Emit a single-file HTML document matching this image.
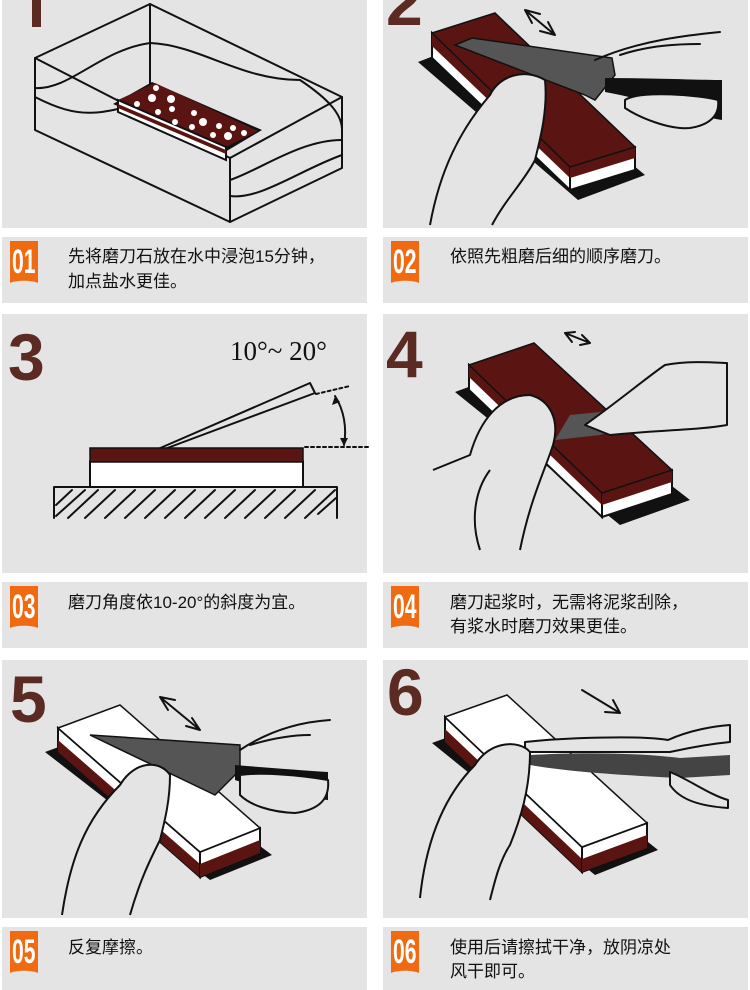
<!DOCTYPE html>
<html><head><meta charset="utf-8"><style>
html,body{margin:0;padding:0;background:#fff;}
svg{display:block;}
.cap{font-family:"Liberation Sans","Noto Sans CJK SC",sans-serif;font-size:17px;fill:#111;}
.big{font-family:"Liberation Sans",sans-serif;font-weight:bold;font-size:66px;fill:#5b2a22;}
.bn{font-family:"Liberation Sans",sans-serif;font-weight:bold;font-size:34px;fill:#fff;}
.ln{fill:none;stroke:#111;stroke-width:2;stroke-linejoin:round;stroke-linecap:round;}
.hand{fill:#e4e4e4;stroke:#111;stroke-width:2;stroke-linejoin:round;}
</style></head><body>
<svg width="750" height="990" viewBox="0 0 750 990" xmlns="http://www.w3.org/2000/svg">
<rect width="750" height="990" fill="#fff"/>
<!-- panels -->
<g fill="#e4e4e4">
<rect x="2" y="0" width="365" height="228"/><rect x="383" y="0" width="365" height="228"/>
<rect x="2" y="237" width="365" height="66"/><rect x="383" y="237" width="365" height="66"/>
<rect x="2" y="314" width="365" height="259"/><rect x="383" y="314" width="365" height="259"/>
<rect x="2" y="582" width="365" height="66"/><rect x="383" y="582" width="365" height="66"/>
<rect x="2" y="660" width="365" height="258"/><rect x="383" y="660" width="365" height="258"/>
<rect x="2" y="927" width="365" height="63"/><rect x="383" y="927" width="365" height="63"/>
</g>

<!-- big numbers -->
<rect x="32" y="0" width="9" height="27" fill="#5b2a22"/>
<text class="big" x="386" y="25">2</text>
<text class="big" x="8" y="380">3</text>
<text class="big" x="386" y="377">4</text>
<text class="big" x="10" y="722">5</text>
<text class="big" x="387" y="715">6</text>

<!-- Panel 1 -->
<g class="ln">
<polygon points="35,58 150,4 342,97 230,158"/>
<polyline points="35,58 35,130 230,222 342,168 342,97"/>
<line x1="230" y1="158" x2="230" y2="222"/>
<line x1="150" y1="4" x2="150" y2="95"/>
<path d="M35,88 C70,90 100,50 150,43 C200,45 240,80 300,80 C330,100 342,115 342,130"/>
<path d="M35,97 C80,120 100,115 150,100 M230,180 C260,170 300,140 342,140 M35,130 M230,196 C260,200 300,170 342,155"/>
</g>
<polygon points="113,104 152,82 262,130 225,152" fill="#111"/>
<polygon points="118,100 155,83 258,131 226,147" fill="#5a1512"/>
<polygon points="118,100 226,147 226,160 118,112" fill="#fff" stroke="#111" stroke-width="2"/>
<polygon points="118,104 226,150 226,154 118,108" fill="#5a1512"/>
<g fill="#fff">
<circle cx="137" cy="104" r="3"/><circle cx="152" cy="98" r="4"/><circle cx="171" cy="99" r="4"/><circle cx="156" cy="88" r="3"/>
<circle cx="158" cy="112" r="3"/><circle cx="172" cy="109" r="3"/><circle cx="194" cy="113" r="3"/><circle cx="203" cy="122" r="4"/>
<circle cx="175" cy="122" r="3"/><circle cx="192" cy="127" r="3"/><circle cx="219" cy="126" r="3"/><circle cx="233" cy="128" r="3"/>
<circle cx="213" cy="135" r="3"/><circle cx="228" cy="136" r="4"/><circle cx="244" cy="133" r="3"/>
</g>

<!-- Panel 2 -->
<polygon points="418,62 480,38 645,175 578,200" fill="#111"/>
<polygon points="432,33 570,167 570,190 432,58" fill="#fff" stroke="#111" stroke-width="2"/>
<polygon points="432,33 570,167 570,178 432,46" fill="#5a1512"/>
<polygon points="570,167 635,147 635,170 570,190" fill="#fff" stroke="#111" stroke-width="2"/>
<polygon points="570,167 635,147 635,158 570,178" fill="#5a1512"/>
<polygon points="432,33 495,13 635,147 570,167" fill="#5a1512" stroke="#111" stroke-width="1.5"/>
<polygon points="455,45 472,38 612,58 615,75 595,100 585,95" fill="#555" stroke="#111" stroke-width="1.5"/>
<path d="M605,78 C650,78 700,80 722,80 L722,120 C690,115 650,100 605,92 Z" fill="#111"/>
<path class="hand" d="M625,100 C640,90 700,95 718,100 C720,115 710,125 690,128 C670,130 640,118 625,108 Z"/>
<path class="hand" d="M430,225 C440,170 460,130 490,95 C500,75 525,68 545,80 C548,110 540,140 535,160 C525,180 505,200 492,225"/>
<path class="ln" d="M595,60 C640,40 690,35 720,32 M620,55 C650,45 680,44 700,44"/>
<path class="ln" d="M555,35 L525,10 M555,35 L548,22 M555,35 L540,31 M525,10 L532,23 M525,10 L540,14"/>

<!-- Panel 3 -->
<g class="ln" stroke-width="1.6">
<polyline points="54,518 54,487 337,487 337,518"/>
<path d="M56,505 L72,490 M56,516 L85,490 M68,518 L98,490 M85,518 L115,490 M105,518 L135,490 M125,518 L155,490 M145,518 L175,490 M165,518 L195,490 M185,518 L215,490 M205,518 L235,490 M225,518 L255,490 M245,518 L275,490 M265,518 L295,490 M285,518 L315,490 M305,518 L335,490 M318,514 L336,498"/>
<rect x="90" y="461" width="213" height="26" fill="#fff"/>
<polygon points="158,449 310,383 315,393 162,450" fill="#e4e4e4"/>
<path d="M316,394 L350,386" stroke-dasharray="3,3"/>
<path d="M305,447 L368,447" stroke-dasharray="3,3"/>
<path d="M335,396 C344,410 347,428 344,445"/>
</g>
<rect x="90" y="448" width="213" height="14" fill="#5a1512" stroke="#111" stroke-width="1.5"/>
<polygon points="335,396 332,405 340,402" fill="#111"/>
<polygon points="344,446 340,438 348,438" fill="#111"/>
<text x="230" y="360" font-family="Liberation Serif,serif" font-size="27" fill="#111">10°~ 20°</text>

<!-- Panel 4 -->
<polygon points="455,392 520,368 690,500 620,525" fill="#111"/>
<polygon points="469,365 602,493 602,517 469,390" fill="#fff" stroke="#111" stroke-width="2"/>
<polygon points="469,365 602,493 602,505 469,377" fill="#5a1512"/>
<polygon points="602,493 672,470 672,494 602,517" fill="#fff" stroke="#111" stroke-width="2"/>
<polygon points="602,493 672,470 672,482 602,505" fill="#5a1512"/>
<polygon points="469,365 534,343 672,470 602,493" fill="#5a1512" stroke="#111" stroke-width="1.5"/>
<polygon points="555,440 570,415 620,410 650,400 655,420 600,435" fill="#555"/>
<path d="M640,400 C650,390 660,385 668,398 C660,408 650,412 640,410 Z" fill="#111"/>
<path class="hand" d="M585,425 C620,400 650,375 665,365 C690,360 720,363 727,363 L727,425 C700,430 660,430 610,435 Z"/>
<path class="hand" d="M433,470 L470,455 C480,420 500,395 530,395 C550,400 560,420 553,445 C545,470 530,500 520,550 M480,550 C470,520 475,490 490,470"/>
<path class="ln" d="M590,343 L565,333 M590,343 L582,335 M590,343 L580,345 M565,333 L572,342 M565,333 L575,332"/>

<!-- Panel 5 -->
<polygon points="45,752 105,730 272,855 210,880" fill="#111"/>
<polygon points="58,728 200,852 200,877 58,752" fill="#fff" stroke="#111" stroke-width="2"/>
<polygon points="58,740 200,864 200,877 58,752" fill="#5a1512"/>
<polygon points="200,852 260,828 260,853 200,877" fill="#fff" stroke="#111" stroke-width="2"/>
<polygon points="200,864 260,840 260,853 200,877" fill="#5a1512"/>
<polygon points="58,728 120,705 260,828 200,852" fill="#fff" stroke="#111" stroke-width="1.5"/>
<polygon points="90,735 240,745 240,770 215,795" fill="#555" stroke="#111" stroke-width="1.5"/>
<path d="M235,765 C270,768 300,770 328,772 L328,800 C300,798 265,790 235,780 Z" fill="#111"/>
<path class="hand" d="M240,775 C260,772 300,775 328,780 C330,800 318,810 295,813 C270,812 250,805 240,795 Z"/>
<path class="hand" d="M62,915 C70,860 85,820 120,785 C135,760 160,760 170,775 C170,800 165,820 160,840 C150,860 140,880 130,915"/>
<path class="ln" d="M240,750 C270,730 300,722 330,720 M250,745 C280,736 300,735 310,735"/>
<path class="ln" d="M200,730 L160,697 M200,730 L192,718 M200,730 L186,726 M160,697 L168,710 M160,697 L175,700"/>

<!-- Panel 6 -->
<polygon points="432,743 495,720 658,850 595,875" fill="#111"/>
<polygon points="445,717 582,847 582,872 445,742" fill="#fff" stroke="#111" stroke-width="2"/>
<polygon points="445,729 582,859 582,872 445,742" fill="#5a1512"/>
<polygon points="582,847 647,823 647,848 582,872" fill="#fff" stroke="#111" stroke-width="2"/>
<polygon points="582,859 647,835 647,848 582,872" fill="#5a1512"/>
<polygon points="445,717 507,695 647,823 582,847" fill="#fff" stroke="#111" stroke-width="1.5"/>
<path d="M530,755 C580,752 640,753 680,758 L730,755 L730,775 L680,778 C620,775 570,772 530,765 Z" fill="#444"/>
<path class="hand" d="M525,742 C560,738 640,735 668,740 C690,730 715,726 730,725 L730,742 C700,745 680,750 670,752 C620,752 560,752 525,752 Z"/>
<path class="hand" d="M670,772 C690,780 710,795 728,800 L728,808 C700,806 680,800 670,785 Z"/>
<path class="hand" d="M420,898 C425,850 440,800 475,765 C490,740 520,740 530,752 C530,790 520,820 510,845 C500,860 495,880 490,900"/>
<path class="ln" d="M620,713 L582,690 M620,713 L605,712 M620,713 L613,700"/>

<!-- badges -->
<g>
<path d="M10,241 H38 V283 C32,280 16,280 10,283 Z" fill="#ef6a10"/>
<path d="M391,241 H419 V283 C413,280 397,280 391,283 Z" fill="#ef6a10"/>
<path d="M10,586 H38 V628 C32,625 16,625 10,628 Z" fill="#ef6a10"/>
<path d="M391,586 H419 V628 C413,625 397,625 391,628 Z" fill="#ef6a10"/>
<path d="M10,931 H38 V973 C32,970 16,970 10,973 Z" fill="#ef6a10"/>
<path d="M391,931 H419 V973 C413,970 397,970 391,973 Z" fill="#ef6a10"/>
</g>
<g class="bn">
<text x="0" y="0" transform="translate(12,273) scale(0.62,1)">01</text>
<text x="0" y="0" transform="translate(393,273) scale(0.62,1)">02</text>
<text x="0" y="0" transform="translate(12,618) scale(0.62,1)">03</text>
<text x="0" y="0" transform="translate(393,618) scale(0.62,1)">04</text>
<text x="0" y="0" transform="translate(12,963) scale(0.62,1)">05</text>
<text x="0" y="0" transform="translate(393,963) scale(0.62,1)">06</text>
</g>
<g class="cap">
<text x="68" y="262">先将磨刀石放在水中浸泡15分钟，</text>
<text x="68" y="287">加点盐水更佳。</text>
<text x="450" y="262">依照先粗磨后细的顺序磨刀。</text>
<text x="68" y="608">磨刀角度依10-20°的斜度为宜。</text>
<text x="450" y="608">磨刀起浆时，无需将泥浆刮除，</text>
<text x="450" y="632">有浆水时磨刀效果更佳。</text>
<text x="68" y="953">反复摩擦。</text>
<text x="450" y="953">使用后请擦拭干净，放阴凉处</text>
<text x="450" y="977">风干即可。</text>
</g>
</svg>
</body></html>
